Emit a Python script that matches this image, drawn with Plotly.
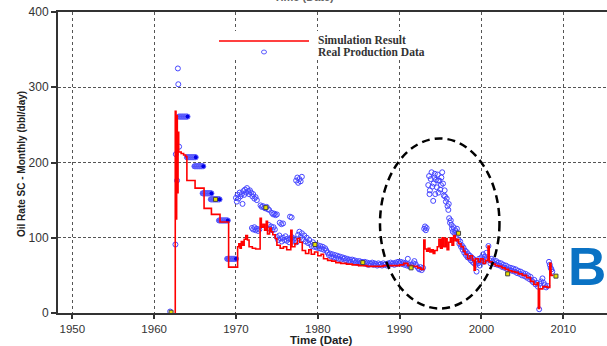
import plotly.graph_objects as go

# ---------------- data ----------------
sim_year = [1962.50, 1962.58, 1962.67, 1962.75, 1962.83, 1962.92, 1963.00, 1963.3, 1963.6, 1963.85,
            1964.0, 1965.0, 1966.1, 1967.0, 1968.05, 1969.1, 1970.2, 1970.35, 1970.5, 1970.65,
            1970.8, 1971.0, 1971.2, 1971.4, 1971.6, 1972.0, 1972.4, 1972.95, 1973.1, 1973.3,
            1973.5, 1973.7, 1973.85, 1974.1, 1974.3, 1974.5, 1974.8, 1975.0, 1975.4, 1975.8,
            1976.2, 1976.7, 1976.85, 1977.2, 1977.5, 1977.8, 1978.1, 1978.5, 1978.9, 1979.2,
            1979.6, 1980.0, 1980.4, 1980.7, 1981.2, 1981.7, 1982.2, 1982.8, 1983.5, 1984.2,
            1985.0, 1986.0, 1987.0, 1988.0, 1989.0, 1990.0, 1990.5, 1991.0, 1991.6, 1992.2,
            1992.6, 1992.95, 1993.1, 1993.3, 1993.5, 1993.7, 1993.9, 1994.1, 1994.3, 1994.6,
            1994.8, 1995.0, 1995.2, 1995.4, 1995.6, 1995.8, 1996.0, 1996.2, 1996.4, 1996.6,
            1996.8, 1997.0, 1997.2, 1997.5, 1997.8, 1998.0, 1998.3, 1998.6, 1998.9, 1999.1,
            1999.25, 1999.6, 1999.9, 2000.2, 2000.5, 2000.8, 2000.95, 2001.3, 2001.7, 2002.1,
            2002.5, 2002.9, 2003.3, 2003.7, 2004.1, 2004.5, 2005.0, 2005.5, 2006.0, 2006.4,
            2006.8, 2006.95, 2007.1, 2007.5, 2008.0, 2008.35, 2008.5, 2008.8]
sim_rate = [0, 268, 125, 262, 160, 240, 214, 212, 210, 208,
            176, 166, 139, 131, 121, 61, 88, 92, 86, 95,
            90, 98, 103, 97, 88, 86, 85, 126, 114, 118,
            110, 122, 105, 113, 108, 104, 99, 90, 86, 88,
            84, 110, 88, 92, 99, 94, 83, 79, 84, 78,
            81, 76, 78, 72, 70, 69, 67, 66, 65, 64,
            63, 62, 62, 63, 63, 64, 66, 63, 62, 60,
            58, 97, 85, 82, 86, 81, 84, 79, 83, 88,
            98, 86, 100, 88, 99, 84, 94, 100, 90, 103,
            96, 98, 92, 88, 82, 78, 72, 76, 70, 57,
            72, 68, 72, 66, 70, 89, 68, 65, 63, 62,
            60, 58, 56, 55, 54, 52, 50, 47, 42, 38,
            40, 6, 32, 35, 34, 66, 50, 50]

# annual (constant-rate) production reports 1963-1970, monthly stamps
block_year = [
    1963.00, 1963.08, 1963.17, 1963.25, 1963.33, 1963.42, 1963.50, 1963.58, 1963.67, 1963.75, 1963.83, 1963.92, 1964.00, 1964.08,
    1964.00, 1964.08, 1964.17, 1964.25, 1964.33, 1964.42, 1964.50, 1964.58, 1964.67, 1964.75, 1964.83, 1964.92, 1965.00, 1965.08,
    1964.92, 1965.00, 1965.08, 1965.17, 1965.25, 1965.33, 1965.42, 1965.50, 1965.58, 1965.67, 1965.75, 1965.83, 1965.92, 1966.00,
    1965.92, 1966.00, 1966.08, 1966.17, 1966.25, 1966.33, 1966.42, 1966.50, 1966.58, 1966.67, 1966.75, 1966.83, 1966.92, 1967.00,
    1966.92, 1967.00, 1967.08, 1967.17, 1967.25, 1967.33, 1967.42, 1967.50, 1967.58, 1967.67, 1967.75, 1967.83, 1967.92, 1968.00,
    1967.92, 1968.00, 1968.08, 1968.17, 1968.25, 1968.33, 1968.42, 1968.50, 1968.58, 1968.67, 1968.75, 1968.83, 1968.92, 1969.00,
    1968.92, 1969.00, 1969.08, 1969.17, 1969.25, 1969.33, 1969.42, 1969.50, 1969.58, 1969.67, 1969.75, 1969.83, 1969.92, 1970.00]
block_rate = [
    261, 261, 261, 261, 261, 261, 261, 261, 261, 261, 261, 261, 261, 261,
    207, 207, 207, 207, 207, 207, 207, 207, 207, 207, 207, 207, 207, 207,
    195, 195, 195, 195, 195, 195, 195, 195, 195, 195, 195, 195, 195, 195,
    159, 159, 159, 159, 159, 159, 159, 159, 159, 159, 159, 159, 159, 159,
    151, 151, 151, 151, 151, 151, 151, 151, 151, 151, 151, 151, 151, 151,
    123, 123, 123, 123, 123, 123, 123, 123, 123, 123, 123, 123, 123, 123,
    72, 72, 72, 72, 72, 72, 72, 72, 72, 72, 72, 72, 72, 72]

real_year = [
    1961.95, 1962.6, 1962.65, 1962.8, 1962.9, 1962.95, 1963.05,
    1970.0, 1970.1, 1970.2, 1970.3, 1970.45, 1970.55, 1970.7, 1970.8, 1970.9, 1971.0,
    1971.1, 1971.25, 1971.35, 1971.5, 1971.6, 1971.7, 1971.85, 1972.0, 1972.1, 1972.25,
    1972.4, 1972.55,
    1971.95, 1972.1, 1972.25, 1972.4, 1972.55, 1972.7, 1972.85,
    1973.0, 1973.15, 1973.3, 1973.45, 1973.6, 1973.75, 1973.9, 1974.05,
    1974.4, 1974.55, 1974.7, 1974.85, 1975.0,
    1975.35, 1975.55, 1975.75, 1976.6, 1976.8,
    1974.0, 1974.15, 1974.3, 1974.45, 1974.6, 1974.75,
    1975.0, 1975.15, 1975.3, 1975.45, 1975.6, 1975.75, 1975.9, 1976.05, 1976.2, 1976.35,
    1976.5, 1976.65, 1976.8, 1976.95, 1977.1, 1977.25, 1977.4,
    1977.35, 1977.5, 1977.6, 1977.75, 1977.9, 1978.05,
    1977.6, 1977.75, 1977.9, 1978.05, 1978.2, 1978.35, 1978.5, 1978.65, 1978.8, 1978.95,
    1979.1, 1979.25, 1979.4, 1979.55, 1979.7, 1979.85, 1980.0, 1980.15, 1980.3, 1980.45,
    1980.6, 1980.75, 1980.9, 1981.05,
    1981.2, 1981.35, 1981.5, 1981.65, 1981.8, 1981.95, 1982.1, 1982.25, 1982.4, 1982.55,
    1982.7, 1982.85, 1983.0, 1983.15, 1983.3, 1983.45, 1983.6, 1983.75, 1983.9, 1984.05,
    1984.2, 1984.35, 1984.5, 1984.65, 1984.8, 1984.95, 1985.1, 1985.25, 1985.4,
    1985.6, 1985.75, 1985.9, 1986.05, 1986.2, 1986.35, 1986.5, 1986.65, 1986.8, 1986.95,
    1987.1, 1987.25, 1987.4, 1987.55, 1987.7, 1987.85, 1988.0, 1988.15, 1988.3, 1988.45,
    1988.6, 1988.75, 1988.9, 1989.05, 1989.2, 1989.35, 1989.5, 1989.65, 1989.8, 1989.95,
    1990.0, 1990.15, 1990.3, 1990.45, 1990.6, 1990.75, 1990.9, 1991.0, 1991.05, 1991.2,
    1991.35, 1991.5, 1991.65, 1991.8, 1991.95, 1992.1, 1992.25, 1992.4, 1992.55, 1992.7,
    1992.85,
    1993.0, 1993.1, 1993.2, 1993.3,
    1993.5, 1993.6, 1993.7, 1993.8, 1993.9, 1994.0, 1994.1, 1994.15, 1994.25, 1994.35,
    1994.45, 1994.55, 1994.65, 1994.75, 1994.85, 1994.95, 1995.05, 1995.2, 1995.3, 1995.4,
    1995.5, 1993.65, 1994.3, 1994.7, 1995.1,
    1995.55, 1995.65, 1995.75, 1995.85, 1995.95, 1996.0,
    1996.05, 1996.15, 1996.25, 1996.35,
    1996.4, 1996.5, 1996.6, 1996.7, 1996.8, 1996.9, 1997.0, 1997.1,
    1997.2, 1997.3, 1997.4, 1997.5, 1997.6, 1997.7, 1997.8, 1997.9, 1998.0, 1998.1,
    1998.2, 1998.3,
    1998.4, 1998.5, 1998.6, 1998.7, 1998.8, 1998.9, 1999.0, 1999.1, 1999.2, 1999.3,
    1999.4, 1999.5, 1999.6, 1999.7, 1999.8, 1999.9,
    2000.0, 2000.1, 2000.2, 2000.3, 2000.4, 2000.5, 2000.6, 2000.7, 2000.85, 2001.0,
    2001.1,
    2001.2, 2001.35, 2001.5, 2001.65, 2001.8, 2001.95, 2002.1, 2002.25, 2002.4, 2002.55,
    2002.7, 2002.85, 2003.0, 2003.15, 2003.3, 2003.45,
    2003.6, 2003.75, 2003.9, 2004.05, 2004.2, 2004.35, 2004.5, 2004.65, 2004.8, 2004.95,
    2005.1, 2005.25, 2005.4, 2005.55, 2005.7, 2005.85, 2006.0, 2006.15, 2006.3,
    2006.45, 2006.6, 2006.75, 2006.9, 2007.05, 2007.15, 2007.3, 2007.45, 2007.6, 2007.75,
    2007.9, 2008.05,
    2008.25, 2008.35, 2008.45, 2008.55, 2008.65]
real_rate = [
    2, 91, 211, 176, 325, 304, 221,
    153, 148, 157, 152, 160, 155, 158, 145, 162, 157,
    164, 160, 166, 162, 158, 163, 160, 155, 158, 152,
    154, 150,
    113, 111, 114, 110, 112, 109, 111,
    143, 141, 142, 140, 139, 141, 138, 137,
    133, 131, 132, 130, 131,
    120, 118, 119, 128, 127,
    117, 112, 115, 110, 114, 111,
    101, 97, 103, 99, 95, 100, 97, 102, 96, 99,
    94, 98, 101, 95, 99, 96, 94,
    176, 180, 173, 178, 175, 181,
    104, 108, 101, 106, 98, 103, 95, 100, 93, 97,
    92, 89, 94, 88, 91, 87, 90, 86, 89, 85,
    88, 84, 86, 83,
    80, 77, 79, 75, 78, 74, 77, 73, 76, 72,
    75, 71, 74, 72, 73, 70, 72, 69, 71, 68,
    71, 69, 70, 67, 69, 66, 69, 67, 68,
    66, 68, 65, 67, 64, 66, 65, 67, 64, 66,
    65, 63, 66, 64, 65, 63, 66, 64, 65, 63,
    66, 64, 67, 65, 66, 64, 67, 65, 68, 66,
    66, 68, 65, 67, 64, 66, 63, 72, 65, 62,
    64, 63, 66, 69, 65, 62, 60, 58, 61, 57,
    60,
    112, 115, 110, 113,
    170, 182, 163, 178, 187, 168, 149, 172, 180, 158,
    177, 167, 184, 160, 176, 164, 170, 187, 172, 156,
    163, 158, 185, 176, 180,
    155, 148, 152, 142, 137, 145,
    126, 120, 123, 117,
    112, 108, 114, 106, 110, 107, 112, 105,
    97, 92, 95, 88, 90, 84, 87, 80, 83, 77,
    81, 74,
    78, 73, 76, 70, 74, 68, 72, 66, 70, 64,
    55, 69, 66, 72, 63, 68,
    74, 70, 78, 68, 75, 71, 80, 72, 89, 70,
    66,
    72, 68, 70, 65, 69, 64, 67, 63, 66, 61,
    64, 60, 63, 58, 61, 57,
    60, 56, 59, 55, 58, 53, 56, 52, 55, 50,
    53, 49, 52, 47, 50, 45, 48, 43, 41,
    44, 38, 40, 35, 5, 39, 42, 46, 40, 37,
    34, 36,
    68, 64, 60, 58, 55]

flag_year = [1962.07, 1967.5, 1973.65, 1979.65, 1985.5, 1991.4, 1997.2, 2003.2, 2009.1]
flag_rate = [1, 151, 140, 91, 67, 60, 106, 52, 49]

x_ticks = [1950, 1960, 1970, 1980, 1990, 2000, 2010]
y_ticks = [0, 100, 200, 300, 400]
legend_labels = ["Simulation Result", "Real Production Data"]
x_title = "Time (Date)"
y_title = "Oil Rate SC - Monthly (bbl/day)"
panel_label = "B"

# ---------------- layout geometry ----------------
W, H = 607, 346
L, R, T, B = 58, 0, 12, 33
PW, PH = W - L - R, H - T - B


def px(xp):
    return (xp - L) / PW


def py(yp):
    return (H - B - yp) / PH


fig = go.Figure()

fig.add_trace(go.Scatter(
    x=block_year, y=block_rate, mode="markers",
    marker=dict(symbol="circle", size=5, color="#0000e6", line=dict(width=1, color="#6a6aff")),
    hoverinfo="skip", showlegend=False))

fig.add_trace(go.Scatter(
    x=real_year, y=real_rate, mode="markers",
    marker=dict(symbol="circle-open", size=5, color="#4646ff", line=dict(width=1)),
    hoverinfo="skip", showlegend=False))

fig.add_trace(go.Scatter(
    x=sim_year, y=sim_rate, mode="lines", line_shape="hv",
    line=dict(color="#ff0000", width=1.6),
    hoverinfo="skip", showlegend=False))

fig.add_trace(go.Scatter(
    x=flag_year, y=flag_rate, mode="markers",
    marker=dict(symbol="square", size=4, color="#e8e000", line=dict(width=1, color="#444444")),
    hoverinfo="skip", showlegend=False))

shapes = [
    # legend background box (hides gridlines)
    dict(type="rect", xref="paper", yref="paper", x0=px(213), x1=px(440), y0=py(60), y1=py(31),
         fillcolor="white", line=dict(width=0), layer="above"),
    dict(type="line", xref="paper", yref="paper", x0=px(219), x1=px(309), y0=py(41), y1=py(41),
         line=dict(color="#ff0000", width=1.6), layer="above"),
    dict(type="circle", xref="paper", yref="paper", x0=px(261.5), x1=px(266.5), y0=py(54), y1=py(50),
         line=dict(color="#5a5aff", width=1), layer="above"),
    # dashed ellipse highlighting the 1990s
    dict(type="circle", xref="x", yref="y", x0=1987.6, x1=2002.2, y0=6, y1=232,
         line=dict(color="black", width=2.5, dash="8px,5px"), layer="above"),
]

annotations = [
    dict(text="<b>" + legend_labels[0] + "</b>", xref="paper", yref="paper", x=px(316), y=py(40),
         xanchor="left", yanchor="middle", showarrow=False,
         font=dict(family="Liberation Serif", size=11.5, color="#333333")),
    dict(text="<b>" + legend_labels[1] + "</b>", xref="paper", yref="paper", x=px(316), y=py(52),
         xanchor="left", yanchor="middle", showarrow=False,
         font=dict(family="Liberation Serif", size=11.5, color="#333333")),
    dict(text="<b>" + y_title + "</b>", xref="paper", yref="paper", x=px(21), y=py(164),
         xanchor="center", yanchor="middle", textangle=-90, showarrow=False,
         font=dict(family="Liberation Sans", size=10, color="#222222")),
    dict(text="<b>" + x_title + "</b>", xref="paper", yref="paper", x=px(321), y=py(339.5),
         xanchor="center", yanchor="middle", showarrow=False,
         font=dict(family="Liberation Sans", size=11.5, color="#222222")),
    dict(text="<b>" + x_title + "</b>", xref="paper", yref="paper", x=px(304), y=py(-3),
         xanchor="center", yanchor="middle", showarrow=False,
         font=dict(family="Liberation Sans", size=11, color="#666666")),
    dict(text="<b>" + panel_label + "</b>", xref="paper", yref="paper", x=px(587), y=py(266),
         xanchor="center", yanchor="middle", showarrow=False,
         font=dict(family="Liberation Sans", size=53, color="#0a72c4")),
]

fig.update_layout(
    width=W, height=H, autosize=False,
    margin=dict(l=L, r=R, t=T, b=B, pad=0),
    paper_bgcolor="white", plot_bgcolor="white",
    showlegend=False,
    shapes=shapes, annotations=annotations,
    font=dict(family="Liberation Sans", size=12, color="#333333"),
)

fig.update_xaxes(
    range=[1948.25, 2015.34], tickvals=x_ticks, ticktext=[str(v) for v in x_ticks],
    showgrid=True, gridcolor="#555555", gridwidth=1, griddash="dot",
    showline=True, linecolor="#333333", linewidth=2, mirror=True,
    ticks="outside", ticklen=4, tickcolor="#333333", tickwidth=1.5, zeroline=False,
    tickfont=dict(family="Liberation Sans", size=11.5, color="#333333"),
)
fig.update_yaxes(
    range=[0, 400], tickvals=y_ticks, ticktext=[str(v) for v in y_ticks],
    showgrid=True, gridcolor="#555555", gridwidth=1, griddash="3px,2px",
    showline=True, linecolor="#333333", linewidth=2,
    ticks="outside", ticklen=5, tickcolor="#333333", tickwidth=1.5, zeroline=False,
    tickfont=dict(family="Liberation Sans", size=12, color="#333333"),
)

fig.write_html("out.html")
